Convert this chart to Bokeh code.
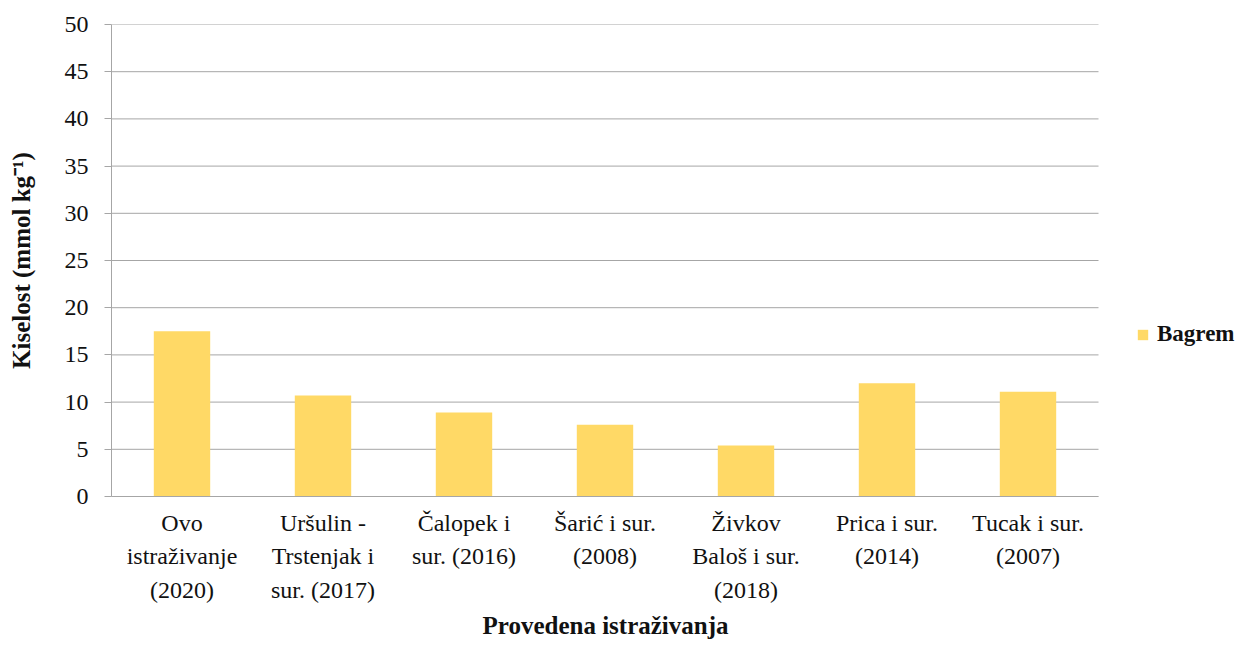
from bokeh.plotting import figure
from bokeh.models import ColumnDataSource, Range1d, FixedTicker, Legend, LegendItem, Title
from bokeh.embed import file_html
from bokeh.resources import INLINE

categories = [
    "Ovo\nistraživanje\n(2020)",
    "Uršulin -\nTrstenjak i\nsur. (2017)",
    "Čalopek i\nsur. (2016)",
    "Šarić i sur.\n(2008)",
    "Živkov\nBaloš i sur.\n(2018)",
    "Prica i sur.\n(2014)",
    "Tucak i sur.\n(2007)",
]
bagrem = [17.5, 10.7, 8.9, 7.6, 5.4, 12.0, 11.1]
y_ticks = [0, 5, 10, 15, 20, 25, 30, 35, 40, 45, 50]
series_name = "Bagrem"
x_title = "Provedena istraživanja"
y_title = "Kiselost (mmol kg⁻¹)"

FONT = "Liberation Serif"
GRID = "#A6A6A6"
TXT = "#111111"

W, H = 1236, 641
LEFT, TOP, BOTTOM = 111, 24, 143
PLOT_W = 987            # pixel width of the category area
frame_w = W - LEFT

n = len(categories)
xs = [i + 0.5 for i in range(n)]
x_end = n * frame_w / PLOT_W   # frame extends past the categories to host the legend

source = ColumnDataSource(data=dict(x=xs, val=bagrem, cat=categories))

p = figure(
    x_range=Range1d(0, x_end),
    y_range=Range1d(0, 50),
    width=W, height=H,
    output_backend="svg", toolbar_location=None, tools="",
    min_border_left=LEFT, min_border_right=0, min_border_top=TOP, min_border_bottom=BOTTOM,
)
p.outline_line_color = None
p.background_fill_color = "white"
p.border_fill_color = "white"
p.xgrid.grid_line_color = None
p.ygrid.grid_line_color = None

# horizontal gridlines limited to the category area
p.segment(x0=[0] * len(y_ticks), x1=[n] * len(y_ticks), y0=y_ticks, y1=y_ticks,
          line_color=GRID, line_width=1)

r = p.vbar(x="x", top="val", width=0.4, source=source,
           fill_color="#FFD966", line_color=None)

# y axis
p.yaxis.ticker = FixedTicker(ticks=y_ticks)
p.yaxis.axis_line_color = GRID
p.yaxis.major_tick_line_color = GRID
p.yaxis.major_tick_out = 7
p.yaxis.major_tick_in = 0
p.yaxis.minor_tick_line_color = None
p.yaxis.major_label_standoff = 16
p.yaxis.major_label_text_font = FONT
p.yaxis.major_label_text_font_size = "24px"
p.yaxis.major_label_text_color = TXT
p.yaxis.axis_label = y_title
p.yaxis.axis_label_text_font = FONT
p.yaxis.axis_label_text_font_size = "25px"
p.yaxis.axis_label_text_font_style = "bold"
p.yaxis.axis_label_text_color = TXT
p.yaxis.axis_label_standoff = 27

# x axis
p.xaxis.ticker = FixedTicker(ticks=xs)
p.xaxis.major_label_overrides = {x: c for x, c in zip(xs, categories)}
p.xaxis.bounds = (0, n)
p.xaxis.axis_line_color = GRID
p.xaxis.major_tick_line_color = None
p.xaxis.minor_tick_line_color = None
p.xaxis.major_label_standoff = 7
p.xaxis.major_label_text_font = FONT
p.xaxis.major_label_text_font_size = "24px"
p.xaxis.major_label_text_color = TXT
p.xaxis.major_label_text_line_height = 1.3

# x-axis title, centred under the category area (not the whole frame)
p.add_layout(Title(
    text=x_title, align="left", offset=371, standoff=6,
    text_font=FONT, text_font_size="25px", text_font_style="bold", text_color=TXT,
), "below")

legend = Legend(
    items=[LegendItem(label=series_name, renderers=[r])],
    location=(1025, 149),
    border_line_color=None,
    background_fill_alpha=0,
    padding=0, margin=0, spacing=0,
    glyph_width=13, glyph_height=13,
    label_standoff=8,
    label_text_font=FONT,
    label_text_font_size="23px",
    label_text_font_style="bold",
    label_text_color=TXT,
)
p.add_layout(legend)

open("out.html", "w").write(file_html(p, INLINE))
